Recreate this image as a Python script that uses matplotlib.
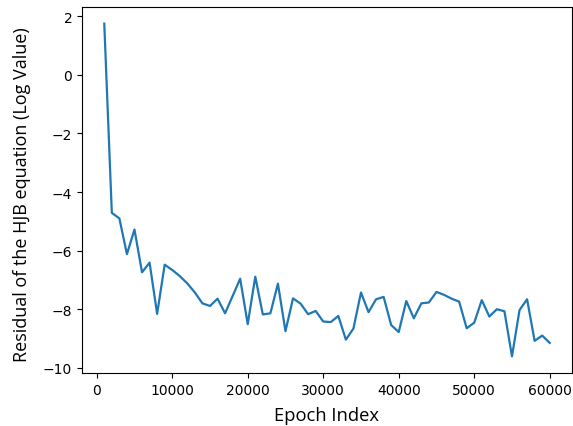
import matplotlib
matplotlib.use("Agg")
import matplotlib.pyplot as plt
import numpy as np

epochs = list(range(1000, 61000, 1000))
residual_log = [
    1.75, -4.71, -4.90, -6.12, -5.28, -6.74, -6.41, -8.16, -6.48, -6.66,
    -6.87, -7.12, -7.43, -7.80, -7.89, -7.64, -8.14, -7.55, -6.96, -8.51,
    -6.89, -8.18, -8.14, -7.13, -8.75, -7.63, -7.81, -8.17, -8.06, -8.42,
    -8.44, -8.23, -9.04, -8.66, -7.43, -8.10, -7.66, -7.58, -8.54, -8.78,
    -7.72, -8.31, -7.80, -7.77, -7.41, -7.51, -7.64, -7.74, -8.65, -8.46,
    -7.69, -8.25, -8.00, -8.07, -9.61, -8.03, -7.66, -9.08, -8.90, -9.15,
]
xticks = [0, 10000, 20000, 30000, 40000, 50000, 60000]
yticks = [2, 0, -2, -4, -6, -8, -10]

fig = plt.figure(figsize=(5.73, 4.27), dpi=100)
ax = fig.add_axes([82/573, 1-374/427, (572-82)/573, (374-8)/427])
ax.plot(epochs, residual_log, color="#1f77b4", linewidth=1.6)
ax.set_xticks(xticks)
ax.set_yticks(yticks)
ax.tick_params(labelsize=10)
ax.set_xlabel("Epoch Index", fontfamily="Open Sans", fontsize=13.2)
ax.set_ylabel("Residual of the HJB equation (Log Value)", fontfamily="Open Sans", fontsize=13.0)
ax.xaxis.set_label_coords(0.5, -0.09)
ax.yaxis.set_label_coords(-0.104, 0.49)
fig.savefig("out.png", dpi=100)
